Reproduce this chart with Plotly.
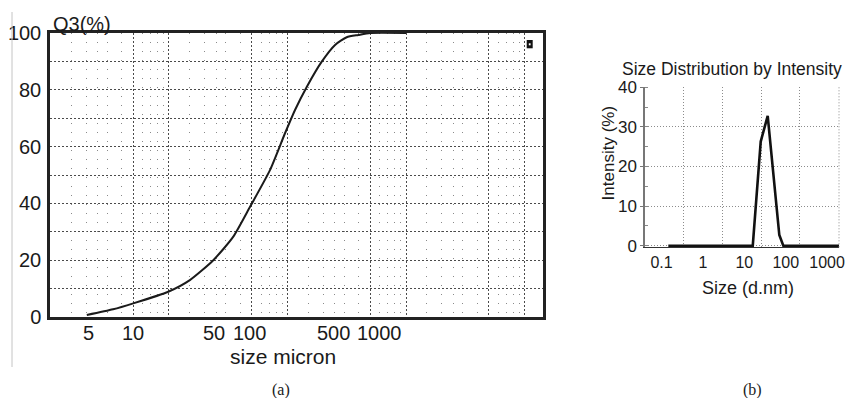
import math
import plotly.graph_objects as go

# ---------------- Data (a): cumulative distribution Q3 ----------------
size_a = [4.05, 6.75, 10, 19.7, 30, 47.3, 69.8, 96.6, 142.6, 190.6, 231.5, 290.6, 389, 504, 632, 792, 1000, 2000]
q3_a = [0.7, 2.7, 4.8, 8.9, 13.0, 20.0, 28.3, 38.8, 51.8, 64.7, 72.9, 81.0, 89.9, 95.8, 98.5, 99.3, 100, 100]

a_tick_vals = [5, 10, 50, 100, 500, 1000]
a_tick_text = ["5", "10", "50", "100", "500", "1000"]
a_y_ticks = [0, 20, 40, 60, 80, 100]
a_grid_major = [10, 20, 100, 200, 1000, 2000, 10000, 20000]
a_grid_minor = [3, 4, 5, 6, 8, 12, 14, 16, 18, 30, 40, 50, 60, 80,
                120, 140, 160, 180, 300, 400, 500, 600, 800,
                1200, 1400, 1600, 1800, 3000, 4000, 5000, 6000, 8000,
                12000, 14000, 16000, 18000]

# ---------------- Data (b): size distribution by intensity ----------------
size_b = [0.146, 16, 24.9, 36.7, 70, 87.5, 1940]
inten_b = [0, 0, 26.3, 32.8, 2.7, 0, 0]

b_tick_vals = [0.1, 1, 10, 100, 1000]
b_tick_text = ["0.1", "1", "10", "100", "1000"]
b_y_ticks = [0, 10, 20, 30, 40]
b_grid_x = [0.336, 2.94, 25.3, 221]

SANS = "Liberation Sans, Arial, sans-serif"
SERIF = "Liberation Serif, Times New Roman, serif"

W, H = 845, 398


def px(x):
    return x / W


def py(y):
    return (H - y) / H


fig = go.Figure()

fig.add_trace(go.Scatter(x=size_a, y=q3_a, mode="lines", xaxis="x", yaxis="y",
                         line=dict(color="#1a1a1a", width=2, shape="spline", smoothing=0.6),
                         showlegend=False, hoverinfo="skip"))
fig.add_trace(go.Scatter(x=size_a, y=q3_a, mode="none", xaxis="x3", yaxis="y",
                         showlegend=False, hoverinfo="skip"))
fig.add_trace(go.Scatter(x=size_b, y=inten_b, mode="lines", xaxis="x2", yaxis="y2",
                         line=dict(color="#111111", width=2.6), showlegend=False,
                         hoverinfo="skip"))

a_l, a_r, a_t, a_b = 50, 543, 33, 317
b_l, b_r, b_t, b_b = 645, 839, 87.3, 247.3

a_xrange = [0.297, 4.457]

fig.update_layout(
    width=W, height=H, margin=dict(l=0, r=0, t=0, b=0, autoexpand=False),
    paper_bgcolor="white", plot_bgcolor="white",
    font=dict(family=SANS, color="#1a1a1a"),
    xaxis=dict(
        domain=[px(a_l), px(a_r)], anchor="y", type="log", range=a_xrange,
        tickmode="array", tickvals=a_tick_vals, showticklabels=False,
        showgrid=False, ticks="",
        showline=True, mirror=True, linecolor="#222222", linewidth=2.5,
        zeroline=False, automargin=False,
        minor=dict(tickmode="array", tickvals=a_grid_major, showgrid=True,
                   gridcolor="#4a4a4a", griddash="2px,2px", gridwidth=1, ticks=""),
    ),
    xaxis3=dict(
        overlaying="x", anchor="y", type="log", range=a_xrange,
        tickmode="array", tickvals=a_grid_minor, showticklabels=False, ticks="",
        showgrid=True, gridcolor="#8a8a8a", griddash="1px,8px", gridwidth=1,
        showline=False, zeroline=False, automargin=False,
    ),
    yaxis=dict(
        domain=[py(a_b), py(a_t)], anchor="x", range=[0, 100],
        tickmode="array", tickvals=a_y_ticks, ticks="",
        tickfont=dict(size=20, family=SANS, color="#1a1a1a"),
        showgrid=True, gridcolor="#4a4a4a", griddash="2px,2px", gridwidth=1,
        minor=dict(dtick=10, showgrid=True, gridcolor="#4a4a4a", griddash="2px,2px",
                   gridwidth=1, ticks=""),
        showline=True, mirror=True, linecolor="#222222", linewidth=2.5,
        zeroline=False, ticklabelstandoff=2, automargin=False,
    ),
    xaxis2=dict(
        domain=[px(b_l), px(b_r)], anchor="y2", type="log", range=[-1.399, 3.287],
        tickmode="array", tickvals=b_tick_vals, ticktext=b_tick_text, tickangle=0,
        ticklabeloverflow="allow",
        showgrid=False, ticks="", tickfont=dict(size=16, family=SANS, color="#1a1a1a"),
        showline=True, linecolor="#333333", linewidth=1.2, zeroline=False,
        automargin=False,
        minor=dict(tickmode="array", tickvals=b_grid_x, showgrid=True,
                   gridcolor="#8c8c8c", griddash="1px,2px", gridwidth=1, ticks=""),
    ),
    yaxis2=dict(
        domain=[py(b_b), py(b_t)], anchor="x2", range=[-0.4, 40],
        tickmode="array", tickvals=b_y_ticks, ticks="outside", ticklen=3,
        tickcolor="#777777", tickfont=dict(size=17, family=SANS, color="#1a1a1a"),
        showgrid=True, gridcolor="#8c8c8c", griddash="1px,2px", gridwidth=1,
        showline=True, linecolor="#777777", linewidth=1.5, zeroline=False,
        automargin=False,
        minor=dict(dtick=5, ticks="inside", ticklen=3, tickcolor="#888888", showgrid=False),
    ),
)

# x tick labels of panel (a), placed on the log axis scale (annotations on log axes
# take log10 positions); small pixel nudges as in the scan
a_label_nudge = [-9, 0, -2, -2, -1, 9]
for v, t, dx in zip(a_tick_vals, a_tick_text, a_label_nudge):
    fig.add_annotation(text=t, x=math.log10(v), xref="x", y=py(333), yref="paper", xshift=dx,
                       showarrow=False, xanchor="center", yanchor="middle",
                       font=dict(size=20, family=SANS, color="#1a1a1a"))

# right border of panel (b): dotted like the grid
fig.add_shape(type="line", xref="x2 domain", yref="y2 domain", x0=1, x1=1, y0=0, y1=1,
              line=dict(color="#8c8c8c", width=1, dash="1px,2px"))

# small legend marker in panel (a)
fig.add_shape(type="rect", xref="x domain", yref="y domain",
              x0=(526.7 - a_l) / (a_r - a_l), x1=(532.7 - a_l) / (a_r - a_l),
              y0=(a_b - 48.3) / (a_b - a_t), y1=(a_b - 40) / (a_b - a_t),
              fillcolor="#111111", line=dict(width=0))
fig.add_shape(type="rect", xref="x domain", yref="y domain",
              x0=(528.8 - a_l) / (a_r - a_l), x1=(530.6 - a_l) / (a_r - a_l),
              y0=(a_b - 45.3) / (a_b - a_t), y1=(a_b - 43.3) / (a_b - a_t),
              fillcolor="white", line=dict(width=0))

# faint frame line on the left of panel (a)
fig.add_shape(type="line", xref="paper", yref="paper", x0=px(12), x1=px(12),
              y0=py(367), y1=py(12), line=dict(color="#c4c4c4", width=1))


def ann(text, x, y, size, family=SANS, angle=0):
    fig.add_annotation(text=text, x=px(x), y=py(y), xref="paper", yref="paper",
                       showarrow=False, xanchor="center", yanchor="middle",
                       textangle=angle, font=dict(size=size, family=family, color="#1a1a1a"))


ann("Q3(%)", 81.7, 24, 20)
ann("size micron", 283.4, 356.7, 21)
ann("(a)", 280.5, 390, 16, SERIF)
ann("(b)", 752, 390, 16, SERIF)
ann("Size Distribution by Intensity", 731.5, 69, 17.5)
ann("Intensity (%)", 608, 153.4, 17, angle=-90)
ann("Size (d.nm)", 748.3, 288.3, 18)

# place the figure at the very top-left of the page (no default body margin), no toolbar
fig.write_html("out.html",
               config={"displayModeBar": False},
               post_script="document.body.style.margin='0';document.body.style.overflow='hidden';")
